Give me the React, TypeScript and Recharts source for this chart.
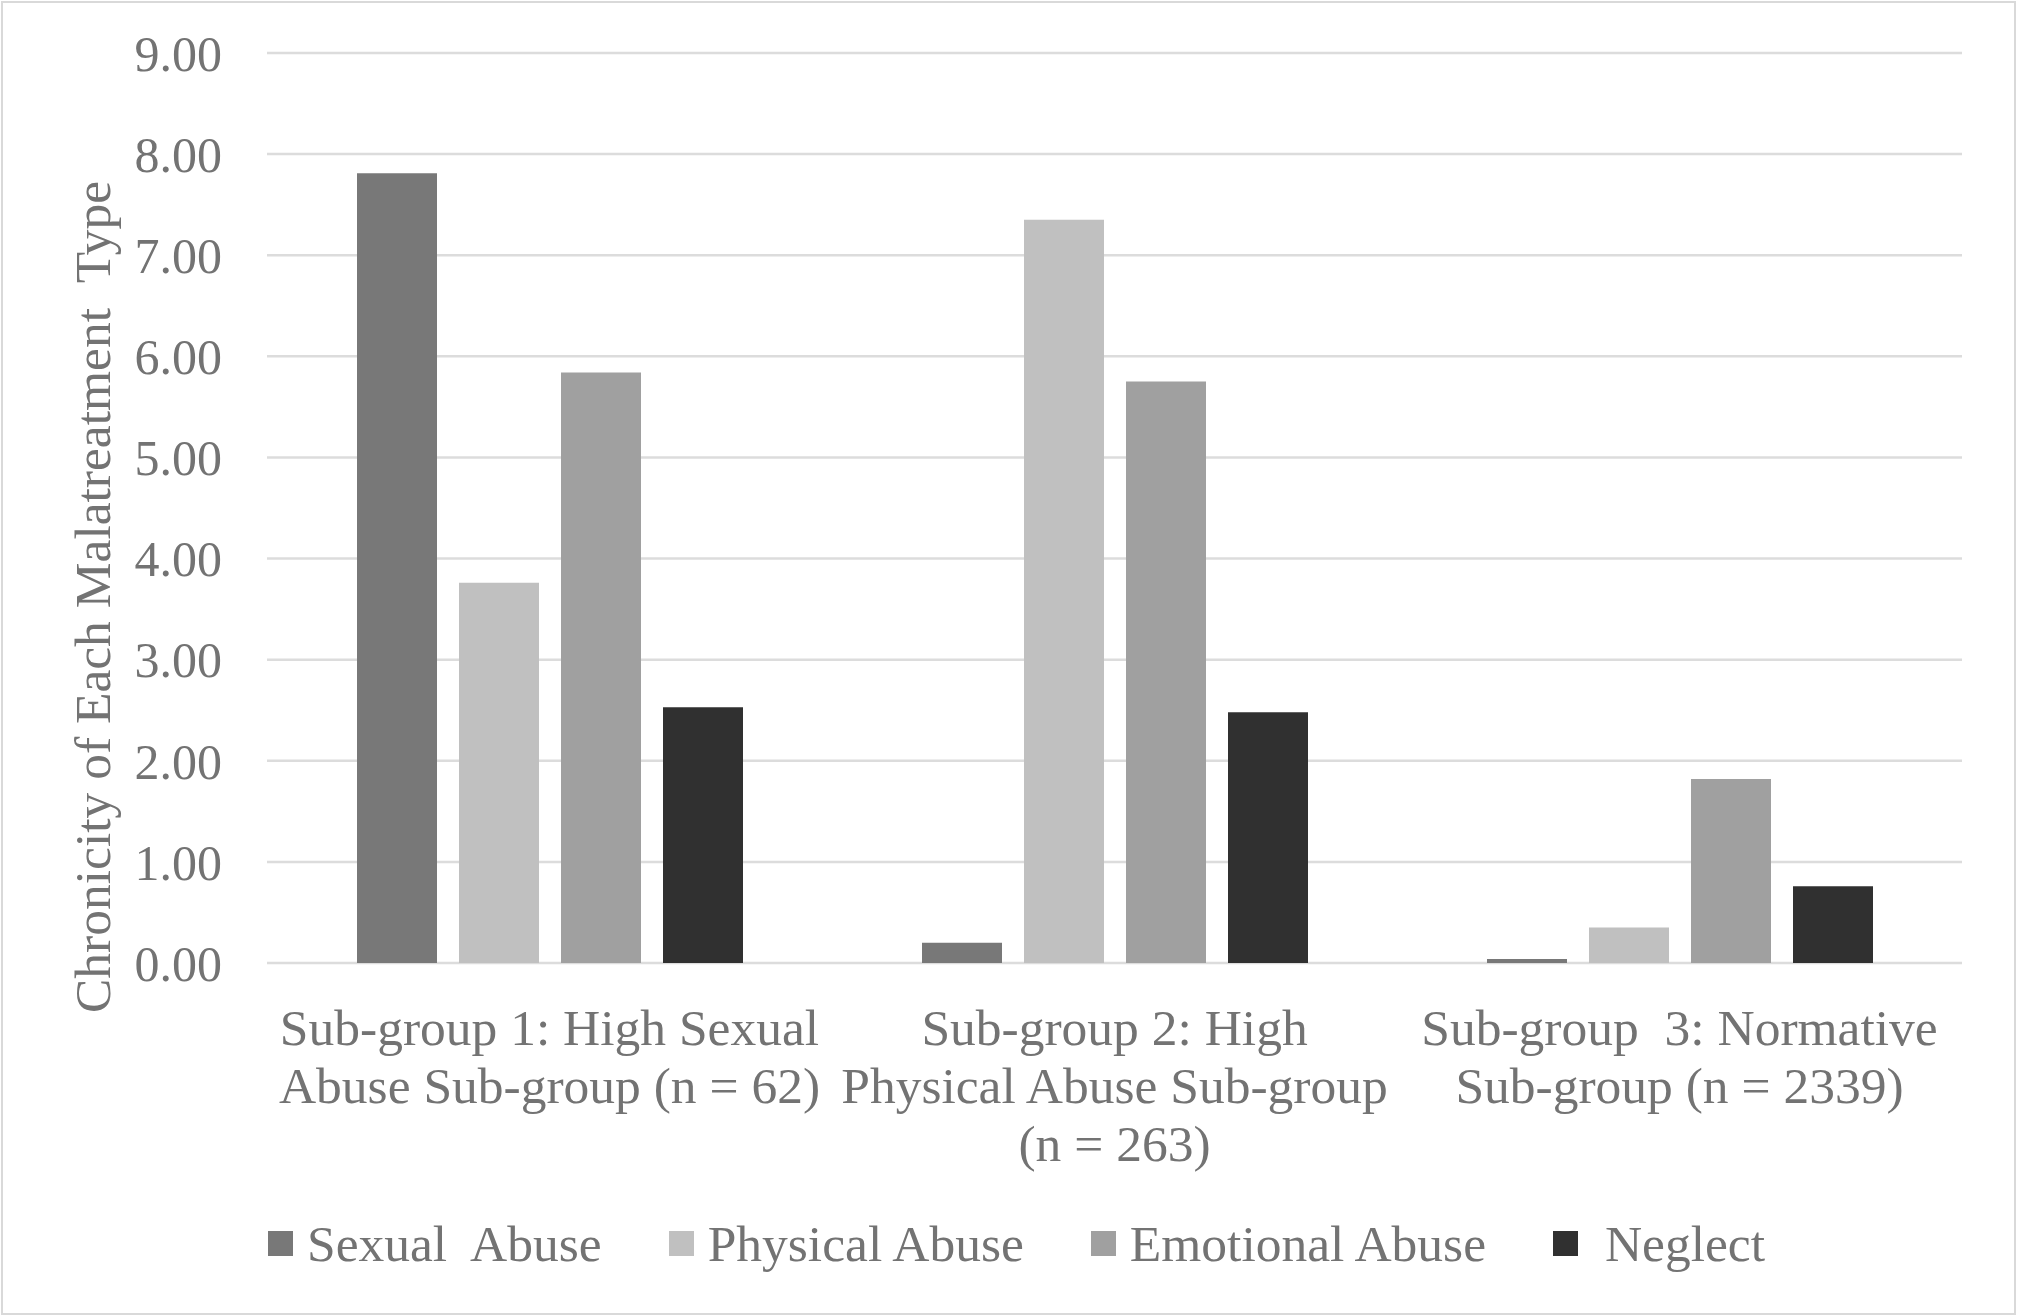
import React from 'react';
import { Bar, BarChart, CartesianGrid, Legend, XAxis, YAxis } from 'recharts';

const groups = [
  ['Sub-group 1: High Sexual', 'Abuse Sub-group (n = 62)'],
  ['Sub-group 2: High', 'Physical Abuse Sub-group', '(n = 263)'],
  ['Sub-group  3: Normative', 'Sub-group (n = 2339)'],
];
const sexualAbuse = [7.81, 0.2, 0.04];
const physicalAbuse = [3.76, 7.35, 0.35];
const emotionalAbuse = [5.84, 5.75, 1.82];
const neglect = [2.53, 2.48, 0.76];
const yTicks = [0, 1, 2, 3, 4, 5, 6, 7, 8, 9];

const seriesNames = ['Sexual  Abuse', 'Physical Abuse', 'Emotional Abuse', ' Neglect'];
const seriesColors = ['#787878', '#c0c0c0', '#a0a0a0', '#303030'];

const data = groups.map((g, i) => ({
  name: g.join('|'),
  sexual: sexualAbuse[i],
  physical: physicalAbuse[i],
  emotional: emotionalAbuse[i],
  neglect: neglect[i],
}));

const FONT = '"Liberation Serif", "Times New Roman", serif';
const TEXT = '#737373';

// multi-line category labels under the bars
function GroupTick(props: any) {
  const { x, y, payload } = props;
  const lines: string[] = String(payload.value).split('|');
  return (
    <text
      x={x}
      y={y + 80}
      textAnchor="middle"
      fill={TEXT}
      fontSize={51.5}
      fontFamily={FONT}
      style={{ whiteSpace: 'pre' }}
    >
      {lines.map((l, i) => (
        <tspan key={i} x={x} dy={i === 0 ? 0 : 58}>
          {l}
        </tspan>
      ))}
    </text>
  );
}

function YTitle() {
  return (
    <text
      x={110}
      y={1013}
      transform="rotate(-90 110 1013)"
      textAnchor="start"
      fill={TEXT}
      fontSize={51.5}
      fontFamily={FONT}
      style={{ whiteSpace: 'pre' }}
    >
      Chronicity of Each Malatreatment  Type
    </text>
  );
}

function LegendRow() {
  return (
    <div style={{ display: 'flex', alignItems: 'center', paddingLeft: 268 }}>
      {seriesNames.map((n, i) => (
        <div key={n} style={{ display: 'flex', alignItems: 'center', marginRight: 67 }}>
          <div style={{ width: 25, height: 25, background: seriesColors[i], marginRight: 14 }} />
          <span
            style={{
              fontFamily: FONT,
              fontSize: 51.5,
              color: TEXT,
              lineHeight: 1,
              whiteSpace: 'pre',
            }}
          >
            {n}
          </span>
        </div>
      ))}
    </div>
  );
}

export default function App() {
  return (
    <div style={{ position: 'relative', width: 2017, height: 1316, background: '#fff' }}>
      <style>{`body{margin:0}`}</style>
      <BarChart
        width={2017}
        height={1316}
        data={data}
        margin={{ top: 53, right: 55, left: 0, bottom: 0 }}
        barSize={80}
        barGap={22}
      >
        <CartesianGrid vertical={false} stroke="#dcdcdc" strokeWidth={2.5} />
        <XAxis
          dataKey="name"
          height={353}
          axisLine={false}
          tickLine={false}
          tickSize={0}
          tick={<GroupTick />}
          interval={0}
        />
        <YAxis
          width={267}
          domain={[0, 9]}
          ticks={yTicks}
          axisLine={false}
          tickLine={false}
          tickSize={0}
          tickMargin={45}
          tickFormatter={(v: number) => v.toFixed(2)}
          tick={{ fill: TEXT, fontSize: 50, fontFamily: FONT }}
          label={<YTitle />}
        />
        <Legend
          verticalAlign="middle"
          content={<LegendRow />}
          wrapperStyle={{ top: 1218, left: 0, width: 2017 }}
        />
        <Bar dataKey="sexual" name={seriesNames[0]} fill={seriesColors[0]} isAnimationActive={false} />
        <Bar dataKey="physical" name={seriesNames[1]} fill={seriesColors[1]} isAnimationActive={false} />
        <Bar dataKey="emotional" name={seriesNames[2]} fill={seriesColors[2]} isAnimationActive={false} />
        <Bar dataKey="neglect" name={seriesNames[3]} fill={seriesColors[3]} isAnimationActive={false} />
      </BarChart>
      <div
        style={{
          position: 'absolute',
          left: 1,
          top: 1,
          width: 2011,
          height: 1310,
          border: '2px solid #d9d9d9',
          pointerEvents: 'none',
        }}
      />
    </div>
  );
}
